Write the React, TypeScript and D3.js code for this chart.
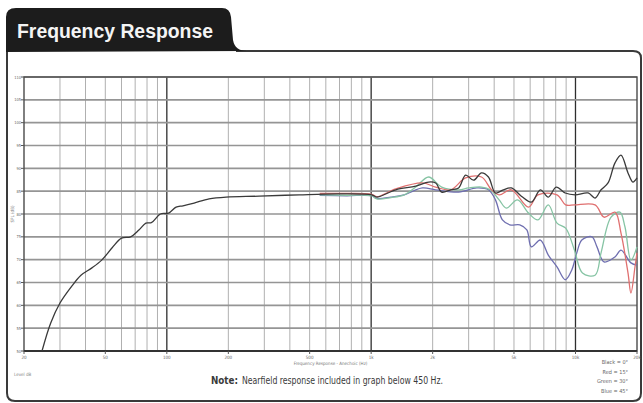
import * as d3 from 'd3';

// x ticks (Hz) and their labels
const freqTicks = [20, 50, 100, 200, 500, 1000, 2000, 5000, 10000, 20000];
const freqLabels = ['20', '50', '100', '200', '500', '1k', '2k', '5k', '10k', '20k'];
const dbTicks = [50, 55, 60, 65, 70, 75, 80, 85, 90, 95, 100, 105, 110];
const legendLabels = ['Black = 0°', 'Red = 15°', 'Green = 30°', 'Blue = 45°'];

// [frequency Hz, SPL dB]
const blackCurve: [number, number][] = [
  [24.5, 50], [27, 56.1], [30, 60.5], [34, 64], [38, 66.6], [43, 68.2], [48, 69.9],
  [54, 72.6], [60, 74.7], [66.5, 75], [73, 76.5], [79, 78], [84, 78.1], [93, 80],
  [102, 80.2], [111, 81.5], [120, 81.8], [136, 82.4], [161, 83.3], [195, 83.7],
  [283, 83.9], [444, 84.2], [695, 84.4], [1007, 84.2], [1066, 83.7], [1320, 85.3],
  [1652, 86.1], [1910, 87], [2069, 86.8], [2213, 84.8], [2449, 85.3], [2680, 85.7],
  [2899, 88.5], [3171, 87.4], [3468, 89], [3750, 88.1], [4057, 84.6], [4437, 85.3],
  [4853, 85.7], [5433, 83.9], [6081, 82.6], [6730, 85.3], [7360, 83.7], [8050, 85.9],
  [8910, 84.6], [9960, 84.2], [11530, 84.6], [12470, 83.5], [13340, 85.3], [14430, 86.8],
  [15610, 91.2], [16700, 92.9], [18070, 89], [19100, 87], [20000, 87.9],
];

const redCurve: [number, number][] = [
  [560, 84.5], [760, 84.5], [1007, 84.3], [1066, 83.8], [1320, 85.5], [1781, 86.8],
  [2069, 85.9], [2449, 85.3], [2899, 87.9], [3468, 88.1], [3880, 85.3], [4230, 84.2],
  [4853, 85.3], [5890, 81.5], [6550, 84.2], [8120, 84.2], [8950, 82], [9880, 82],
  [12470, 82], [13800, 79.3], [15610, 80.4], [16700, 75.8], [18070, 67.1], [18680, 62.7],
  [19550, 68.4], [20000, 71.5],
];

const greenCurve: [number, number][] = [
  [560, 84.2], [760, 84.1], [1007, 84], [1066, 83.3], [1250, 83.6], [1450, 84.2],
  [1652, 85.9], [1910, 88.1], [2213, 85.9], [2680, 85.3], [3000, 85.7], [3468, 85.9],
  [3830, 85.3], [4230, 83.1], [4590, 81.3], [5200, 83.1], [5890, 80.2], [6550, 78.7],
  [7360, 82], [8120, 78], [8950, 76.9], [9880, 72.1], [10820, 67.1], [12470, 66.6],
  [13340, 71.5], [14930, 79.3], [16500, 80.4], [17460, 77.2], [18680, 69.9], [20000, 72.8],
];

const blueCurve: [number, number][] = [
  [560, 84.1], [760, 84], [1007, 84], [1066, 83.4], [1250, 83.7], [1450, 84.2],
  [1781, 85.7], [2069, 85.3], [2680, 84.8], [3290, 85.7], [3750, 85.3], [4057, 83.1],
  [4390, 78.7], [4780, 77.6], [5340, 77.6], [5780, 76.5], [6081, 72.8], [6730, 74.3],
  [7360, 71], [8120, 68.4], [8910, 65.6], [9580, 67.7], [10150, 71.5], [10740, 74.3],
  [12040, 75], [12740, 72.8], [13800, 69.5], [15610, 70.6], [16700, 72.1], [18680, 69.3],
  [20000, 68.8],
];

const W = 643;
const H = 403;
const plot = { left: 24, top: 77, right: 637, bottom: 351 };

const narrow = "'Liberation Sans Narrow', 'DejaVu Sans Condensed', 'Liberation Sans', sans-serif";

export default function App() {
  const x = d3.scaleLog().domain([20, 20000]).range([plot.left, plot.right]);
  const y = d3.scaleLinear().domain([50, 110]).range([plot.bottom, plot.top]);

  const line = d3
    .line<[number, number]>()
    .x((d) => x(d[0]))
    .y((d) => y(d[1]))
    .curve(d3.curveCatmullRom.alpha(0.5));

  // every 1..9 multiple of each decade
  const gridFreqs: number[] = [];
  [10, 100, 1000, 10000].forEach((dec) => {
    for (let k = 1; k <= 9; k++) {
      const f = dec * k;
      if (f > 20 && f < 20000) gridFreqs.push(f);
    }
  });
  const decades = [100, 1000, 10000];

  const series = [
    { data: blueCurve, color: '#6f6fb0' },
    { data: greenCurve, color: '#86c4a4' },
    { data: redCurve, color: '#e07070' },
    { data: blackCurve, color: '#3a3a3a' },
  ];

  return (
    <svg
      width={W}
      height={H}
      style={{ position: 'absolute', left: 0, top: 0, background: '#fff' }}
    >
      {/* outer frame */}
      <path
        d="M7,50 V393 Q7,401 15,401 H633 Q641,401 641,393 V58 Q641,51 633,51 H236"
        fill="none"
        stroke="#3a3a3a"
        strokeWidth={2}
      />
      {/* title tab */}
      <path
        d="M6,52 V17 Q6,8 16,8 H222 Q230,8 231,17 L233,40 Q235,51 247,51 Z"
        fill="#1c1c1c"
      />
      <text
        x={17}
        y={38}
        fill="#f4f4f4"
        fontFamily="'Liberation Sans', Arial, sans-serif"
        fontWeight="bold"
        fontSize={20}
        textLength={196}
        lengthAdjust="spacingAndGlyphs"
      >
        Frequency Response
      </text>

      {/* grid */}
      {gridFreqs.map((f) => (
        <line
          key={'v' + f}
          x1={x(f)}
          x2={x(f)}
          y1={plot.top}
          y2={plot.bottom}
          stroke={decades.includes(f) ? '#2e2e2e' : '#b0b0b0'}
          strokeWidth={decades.includes(f) ? 1.3 : 1}
        />
      ))}
      {dbTicks.map((d) => (
        <line
          key={'h' + d}
          x1={plot.left}
          x2={plot.right}
          y1={y(d)}
          y2={y(d)}
          stroke="#959595"
          strokeWidth={1.6}
        />
      ))}
      <rect
        x={plot.left}
        y={plot.top}
        width={plot.right - plot.left}
        height={plot.bottom - plot.top}
        fill="none"
        stroke="#4a4a4a"
        strokeWidth={1.4}
      />
      <line x1={plot.left} x2={plot.right} y1={plot.bottom} y2={plot.bottom} stroke="#333" strokeWidth={2} />

      {/* y ticks */}
      {dbTicks.map((d) => (
        <g key={'yt' + d}>
          <line x1={plot.left - 3} x2={plot.left} y1={y(d)} y2={y(d)} stroke="#555" />
          <text
            x={plot.left - 3}
            y={y(d) + 1.5}
            fontSize={4}
            textAnchor="end"
            fill="#666"
            fontFamily={narrow}
          >
            {d}
          </text>
        </g>
      ))}
      <text
        transform={`translate(14,${(plot.top + plot.bottom) / 2}) rotate(-90)`}
        fontSize={4.5}
        textAnchor="middle"
        fill="#777"
        fontFamily={narrow}
      >
        SPL (dB)
      </text>

      {/* x ticks */}
      {freqTicks.map((f, i) => (
        <g key={'xt' + f}>
          <line x1={x(f)} x2={x(f)} y1={plot.bottom} y2={plot.bottom + 3} stroke="#555" />
          <text
            x={x(f)}
            y={plot.bottom + 8}
            fontSize={4.5}
            textAnchor="middle"
            fill="#666"
            fontFamily={narrow}
          >
            {freqLabels[i]}
          </text>
        </g>
      ))}
      <text
        x={(plot.left + plot.right) / 2}
        y={plot.bottom + 14}
        fontSize={4.5}
        textAnchor="middle"
        fill="#777"
        fontFamily={narrow}
      >
        Frequency Response - Anechoic (Hz)
      </text>

      {/* curves */}
      {series.map((s, i) => (
        <path
          key={'s' + i}
          d={line(s.data) ?? ''}
          fill="none"
          stroke={s.color}
          strokeWidth={1.3}
          strokeLinejoin="round"
        />
      ))}

      {/* legend */}
      {legendLabels.map((t, i) => (
        <text
          key={t}
          x={628}
          y={364 + i * 9.5}
          fontSize={5.5}
          textAnchor="end"
          fill="#666"
          fontFamily={narrow}
        >
          {t}
        </text>
      ))}
      <text x={14} y={376} fontSize={4.5} fill="#888" fontFamily={narrow}>
        Level dB
      </text>

      {/* note */}
      <text
        x={211}
        y={384}
        fontSize={11}
        fontWeight="bold"
        fill="#3a3a3a"
        fontFamily={narrow}
        textLength={27}
        lengthAdjust="spacingAndGlyphs"
      >
        Note:
      </text>
      <text
        x={242}
        y={384}
        fontSize={11}
        fill="#3a3a3a"
        fontFamily={narrow}
        textLength={201}
        lengthAdjust="spacingAndGlyphs"
      >
        Nearfield response included in graph below 450 Hz.
      </text>
    </svg>
  );
}
